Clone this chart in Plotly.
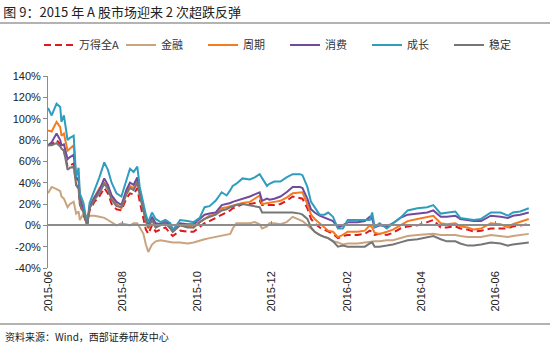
import plotly.graph_objects as go

dates = ["2015-06-01","2015-06-04","2015-06-08","2015-06-11","2015-06-12","2015-06-14","2015-06-17","2015-06-19","2015-06-22","2015-06-24",
         "2015-06-26","2015-06-27","2015-06-30","2015-07-02","2015-07-03","2015-07-05","2015-07-09","2015-07-13","2015-07-17","2015-07-20",
         "2015-07-23","2015-07-27","2015-07-31","2015-08-04","2015-08-07","2015-08-10","2015-08-13","2015-08-15","2015-08-18","2015-08-20",
         "2015-08-22","2015-08-25","2015-08-28","2015-09-01","2015-09-05","2015-09-09","2015-09-11","2015-09-17","2015-09-23","2015-09-28",
         "2015-10-03","2015-10-07","2015-10-11","2015-10-16","2015-10-21","2015-10-25","2015-10-28","2015-10-30","2015-11-02","2015-11-07",
         "2015-11-13","2015-11-17","2015-11-21","2015-11-23","2015-11-27","2015-11-29","2015-12-03","2015-12-08","2015-12-13","2015-12-18",
         "2015-12-24","2015-12-26","2015-12-30","2016-01-02","2016-01-05","2016-01-09","2016-01-13","2016-01-16","2016-01-20","2016-01-24",
         "2016-01-28","2016-02-01","2016-02-09","2016-02-15","2016-02-19","2016-02-21","2016-02-23","2016-02-27","2016-03-04","2016-03-09",
         "2016-03-15","2016-03-21","2016-03-29","2016-04-06","2016-04-11","2016-04-17","2016-04-22","2016-04-29","2016-05-03","2016-05-09",
         "2016-05-14","2016-05-20","2016-05-28","2016-06-05","2016-06-11","2016-06-15","2016-06-21","2016-06-28"]

wind_a = [75,76,80,76,72,70,55,56,58,38,
          35,20,10,3,0,14,22,27,35,30,
          20,15,14,25,30,29,35,22,8,-4,
          -8,0,-6,-4,-2,-8,-10,-5,-6,-6,
          -2,2,4,7,10,12,14,16,17,20,
          20,21,23,19,19,19,19,20,23,27,
          25,25,16,6,2,-2,-4,-6,-8,-12,
          -10,-9,-9,-8,-5,-6,-9,-8,-9,-7,
          -3,-1,0,3,5,-2,-2,-1,-3,-4,
          -6,-5,-3,-3,-3,-1,0,1]

finance = [30,36,34,32,27,25,17,20,22,11,
           13,5,11,9,8,9,9,8,7,5,
           3,0,2,1,0,2,2,-2,-8,-18,
           -25,-18,-15,-14,-15,-16,-16,-16,-17,-16,
           -14,-13,-12,-11,-10,-9,-8,-3,2,2,
           2,3,1,-3,-1,2,2,1,3,8,
           5,4,0,-3,-6,-9,-11,-12,-15,-16,
           -18,-17,-17,-16,-16,-15,-15,-15,-14,-14,
           -12,-10,-9,-8,-8,-9,-9,-9,-10,-11,
           -11,-11,-9,-10,-11,-10,-9,-8]

cycle = [89,88,97,92,84,86,70,72,75,42,
         45,27,17,6,0,18,27,35,40,36,
         27,20,16,30,37,35,42,30,14,4,
         -3,6,-2,1,3,-2,-6,0,-1,-2,
         3,6,9,10,16,17,18,19,20,21,
         22,25,28,20,21,21,22,23,26,30,
         31,31,20,10,6,2,-2,-5,-6,-11,
         -9,-6,-6,-5,0,-2,-7,-8,-6,-4,
         0,4,6,8,9,2,1,2,-1,-2,
         -4,-3,2,1,-2,1,3,6]

consume = [75,78,86,80,75,76,62,64,66,45,
           42,25,14,5,0,17,26,33,44,38,
           28,22,19,33,40,38,45,32,16,6,
           0,8,2,1,3,1,-4,2,1,1,
           6,10,11,12,19,20,21,22,23,25,
           27,29,31,23,25,24,25,27,31,36,
           36,35,25,15,12,9,7,6,4,-2,
           0,3,3,4,8,6,-2,0,-1,2,
           7,10,11,12,14,8,8,9,6,5,
           4,4,9,8,7,9,10,12]

growth = [110,103,114,111,97,103,80,82,84,45,
          54,30,21,8,0,21,33,45,59,52,
          40,30,27,42,53,50,55,36,20,10,
          3,12,6,3,5,2,-5,5,4,3,
          7,17,18,23,31,28,33,37,39,44,
          43,45,48,44,37,39,41,41,45,48,
          48,47,36,22,17,10,10,12,8,-3,
          -3,5,5,5,5,12,-2,2,-3,2,
          7,14,16,17,19,11,12,13,7,6,
          5,6,12,12,9,12,13,16]

stable = [75,75,77,74,72,70,52,54,55,38,
          34,20,12,4,0,16,24,30,39,34,
          24,18,17,29,35,33,40,28,14,4,
          -2,5,-2,0,2,-3,-6,0,-2,-2,
          3,6,8,10,14,15,17,18,19,20,
          19,18,17,12,12,12,12,12,12,12,
          11,10,6,-2,-6,-9,-11,-12,-15,-20,
          -19,-20,-20,-20,-17,-16,-20,-20,-19,-18,
          -16,-14,-13,-11,-10,-13,-15,-15,-17,-19,
          -19,-18,-16,-17,-19,-18,-17,-16]

names = ["万得全A", "金融", "周期", "消费", "成长", "稳定"]
series = [wind_a, finance, cycle, consume, growth, stable]
colors = ["#DC1A1F", "#C9A47E", "#F47B20", "#714AA0", "#309DBE", "#767676"]
y_ticks = [-40, -20, 0, 20, 40, 60, 80, 100, 120, 140]

X_START = "2015-06-01"
X_END = "2016-06-29"

CJK = "Noto Sans CJK SC"
LAT = "Liberation Sans, Arial"

fig = go.Figure()
for name, vals, col in zip(names, series, colors):
    fig.add_trace(go.Scatter(
        x=dates, y=vals, name=name, mode="lines",
        line=dict(color=col, width=2, dash="7px,4px" if name == "万得全A" else "solid"),
        hoverinfo="skip"))

# invisible helper trace so the zero-crossing axis is drawn
fig.add_trace(go.Scatter(x=[dates[0]], y=[0], xaxis="x2", mode="lines",
                         showlegend=False, hoverinfo="skip", line=dict(width=0)))

L, R, T, B = 48, 20, 76, 76
W, H = 550, 344
pw, ph = W - L - R, H - T - B

def px(xp):
    return (xp - L) / pw

def py(yp):
    return (H - B - yp) / ph

fig.update_layout(
    width=W, height=H,
    margin=dict(l=L, r=R, t=T, b=B),
    paper_bgcolor="white", plot_bgcolor="white",
    font=dict(family=LAT, size=11, color="#222"),
    title=dict(text="图 9：2015 年 A 股市场迎来 2 次超跌反弹",
               font=dict(family=CJK, size=13, color="#222"),
               xref="container", yref="container", x=0.006, y=1 - 12 / H,
               xanchor="left", yanchor="middle"),
    showlegend=True,
    legend=dict(orientation="h", x=px(39), y=py(45), xanchor="left", yanchor="middle",
                font=dict(family=CJK, size=11, color="#333"),
                entrywidth=37, entrywidthmode="pixels",
                bgcolor="rgba(0,0,0,0)", itemwidth=30, tracegroupgap=0),
    xaxis=dict(type="date", range=[X_START, X_END], tick0=X_START, dtick="M2",
               tickformat="%Y-%m", tickangle=-90, showgrid=False, zeroline=False,
               showline=False, ticks="", tickfont=dict(family=LAT, size=11, color="#222")),
    xaxis2=dict(type="date", range=[X_START, X_END], tick0=X_START, dtick="M2",
                overlaying="x", anchor="free", position=40 / 180, side="bottom",
                showline=True, linecolor="#8c8c8c", linewidth=1.5,
                ticks="inside", ticklen=4, tickcolor="#8c8c8c", tickwidth=1,
                showticklabels=False, showgrid=False, zeroline=False),
    yaxis=dict(range=[-40, 140], tickvals=y_ticks, ticktext=[f"{v}%" for v in y_ticks],
               showgrid=False, zeroline=False, showline=True, linecolor="#8c8c8c",
               linewidth=1, ticks="outside", ticklen=4, tickcolor="#8c8c8c",
               tickfont=dict(family=LAT, size=11, color="#222")),
    shapes=[
        dict(type="line", xref="paper", yref="paper", x0=px(0), x1=px(W), y0=py(23), y1=py(23),
             line=dict(color="#9a9a9a", width=1.5)),
        dict(type="line", xref="paper", yref="paper", x0=px(0), x1=px(W), y0=py(324), y1=py(324),
             line=dict(color="#9a9a9a", width=1.5)),
    ],
    annotations=[
        dict(text="资料来源：Wind，西部证券研发中心", xref="paper", yref="paper",
             x=px(3), y=py(336), xanchor="left", yanchor="middle", showarrow=False,
             font=dict(family=CJK, size=10, color="#222")),
    ],
)

fig.write_html("out.html")
